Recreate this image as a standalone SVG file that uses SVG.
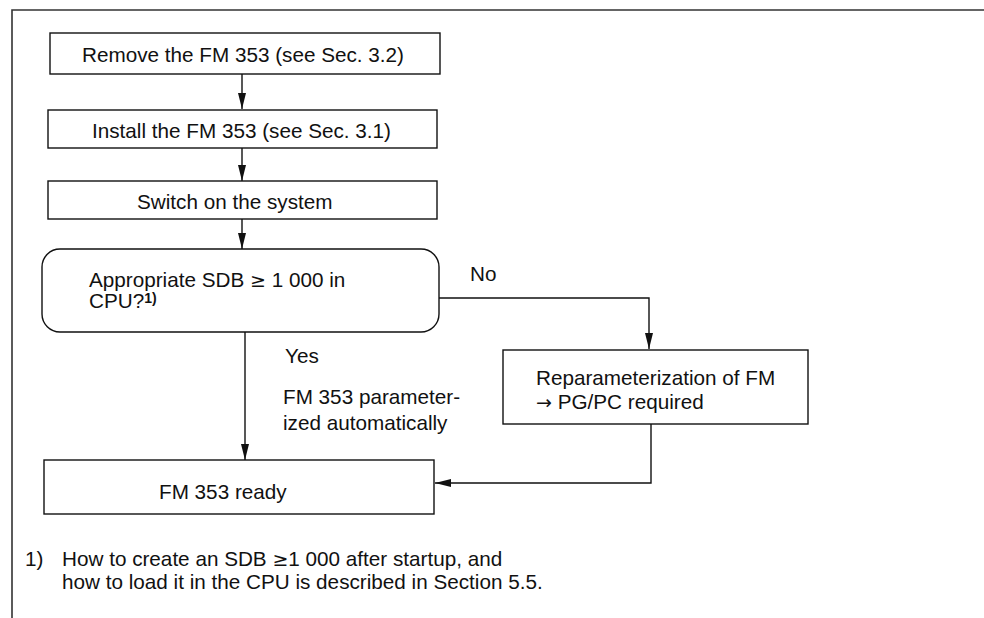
<svg xmlns="http://www.w3.org/2000/svg" width="984" height="618" viewBox="0 0 984 618">
<style>
.b{fill:#fff;stroke:#111;stroke-width:1.4}
.t{font-family:"Liberation Sans",Arial,Helvetica,sans-serif;font-size:20.7px;fill:#111}
.sup{font-size:14px;font-weight:bold}
.sym{font-family:"DejaVu Sans",sans-serif;font-size:19px}
.c{fill:none;stroke:#111;stroke-width:1.4}
.frame{fill:none;stroke:#333;stroke-width:1.6}
</style>
<defs>
<marker id="ah" markerUnits="userSpaceOnUse" markerWidth="16" markerHeight="8" refX="16" refY="4" orient="auto">
<path d="M0,0 L16,4 L0,8 z" fill="#111"/>
</marker>
</defs>
<rect width="984" height="618" fill="#fff"/>
<path class="frame" d="M12,618 V10 H984"/>
<g id="n1">
<rect class="b" x="50" y="33" width="390" height="41"/>
<text class="t" x="82" y="61.5">Remove the FM 353 (see Sec. 3.2)</text>
</g>
<g id="n2">
<rect class="b" x="48" y="110" width="389" height="38"/>
<text class="t" x="92" y="138">Install the FM 353 (see Sec. 3.1)</text>
</g>
<g id="n3">
<rect class="b" x="48" y="181" width="389" height="38"/>
<text class="t" x="137" y="209">Switch on the system</text>
</g>
<g id="n4">
<rect class="b" x="42" y="249" width="397" height="83" rx="18" ry="18"/>
<text class="t" x="89" y="287">Appropriate SDB <tspan class="sym">≥</tspan> 1 000 in</text>
<text class="t" x="89" y="308">CPU?<tspan class="sup" dy="-5">1)</tspan></text>
</g>
<g id="n5">
<rect class="b" x="503" y="350" width="305" height="74"/>
<text class="t" x="536" y="385">Reparameterization of FM</text>
<text class="t" x="536" y="409"><tspan class="sym">→</tspan> PG/PC required</text>
</g>
<g id="n6">
<rect class="b" x="44" y="460" width="390" height="54"/>
<text class="t" x="159" y="499">FM 353 ready</text>
</g>
<g id="connectors">
<path class="c" d="M242,74 V109" marker-end="url(#ah)"/>
<path class="c" d="M242,148 V181" marker-end="url(#ah)"/>
<path class="c" d="M242,219 V249" marker-end="url(#ah)"/>
<path class="c" d="M439,298 H649 V349" marker-end="url(#ah)"/>
<path class="c" d="M245,332 V460" marker-end="url(#ah)"/>
<path class="c" d="M651,424 V483 H435" marker-end="url(#ah)"/>
</g>
<g id="labels">
<text class="t" x="470" y="281">No</text>
<text class="t" x="285" y="363">Yes</text>
<text class="t" x="283" y="404">FM 353 parameter-</text>
<text class="t" x="283" y="430">ized automatically</text>
</g>
<g id="footnote">
<text class="t" x="25" y="566">1)</text>
<text class="t" x="62" y="566">How to create an SDB <tspan class="sym">≥</tspan>1 000 after startup, and</text>
<text class="t" x="62" y="589">how to load it in the CPU is described in Section 5.5.</text>
</g>
</svg>
